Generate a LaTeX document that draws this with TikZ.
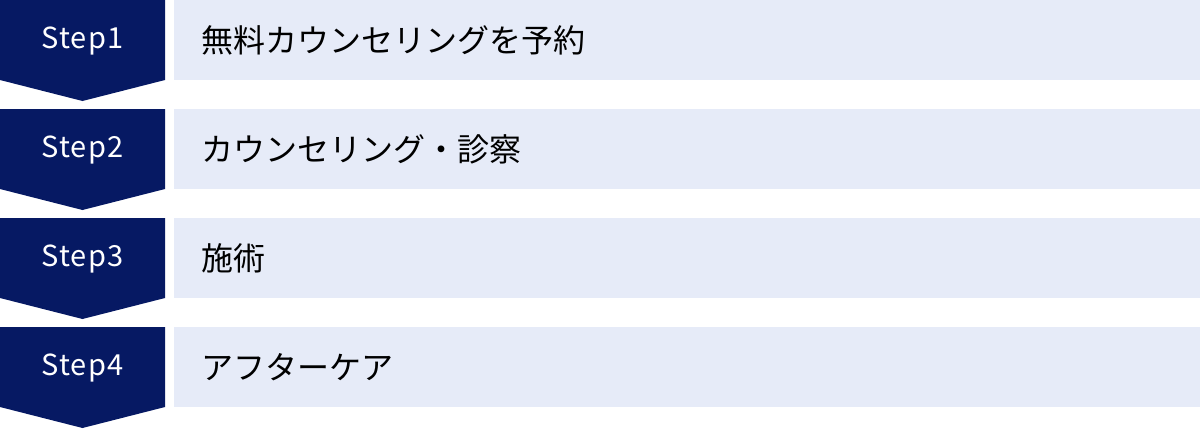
\documentclass[tikz,border=0pt]{standalone}
\usepackage{fontspec}
\newfontfamily\jpfont{Noto Sans CJK JP}
\newfontfamily\stepfont[LetterSpace=4]{Noto Sans CJK JP}
\definecolor{stepnavy}{HTML}{061963}
\definecolor{boxblue}{HTML}{E6EBF8}
\begin{document}
\begin{tikzpicture}[x=1pt,y=-1pt]
	\tikzset{steptab/.style={fill=stepnavy}}
	\tikzset{steplabel/.style={text=white,inner sep=0pt,font=\stepfont\fontsize{29}{29}\selectfont}}
	\tikzset{itembox/.style={fill=boxblue,minimum width=1026pt,minimum height=80pt,inner sep=0pt,anchor=north west}}
	\tikzset{itemtext/.style={inner sep=0pt,anchor=west,font=\jpfont\fontsize{32}{32}\selectfont}}
	\useasboundingbox (0,0) rectangle (1200,429);
	\foreach \n/\txt [count=\i from 0] in {1/無料カウンセリングを予約,2/カウンセリング・診察,3/施術,4/アフターケア}{
		\fill[steptab] (0,\i*109) -- (165,\i*109) -- (165,\i*109+80) -- (82.5,\i*109+101) -- (0,\i*109+80) -- cycle;
		\node[steplabel] (step\n) at (82.5,\i*109+41) {Step\n};
		\node[itembox] (box\n) at (174,\i*109) {};
		\node[itemtext] (item\n) at (201,\i*109+40) {\txt};
	}
\end{tikzpicture}
\end{document}
